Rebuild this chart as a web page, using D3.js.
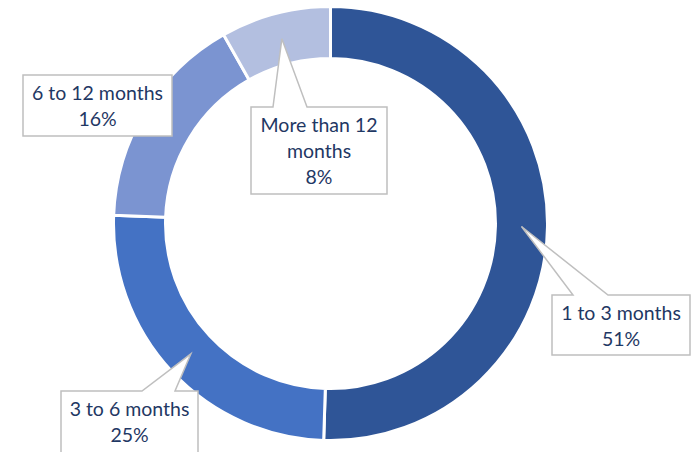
<!DOCTYPE html>
<html><head><meta charset="utf-8">
<script src="https://cdn.jsdelivr.net/npm/d3@7"></script>
<style>body{margin:0;background:#fff}svg{display:block}</style>
</head><body>
<svg id="chart" width="697" height="452"></svg>
<script>
const categories = ["1 to 3 months", "3 to 6 months", "6 to 12 months", "More than 12 months"];
const values = [50.5, 25.1, 16.2, 8.2];
const percentLabels = ["51%", "25%", "16%", "8%"];
const labelLines = [["1 to 3 months"], ["3 to 6 months"], ["6 to 12 months"], ["More than 12", "months"]];
const colors = ["#2F5597", "#4472C4", "#7B94D1", "#B3BFE0"];
// callout boxes: [left, top, width, height] and whether a pointer is drawn
const boxes = [[552, 295, 138, 60], [61, 391, 137, 66], [23, 75, 149, 61], [251, 107, 136, 87]];
const pointerGap = [[573, 608], [142, 175], null, [273, 307]];

const svg = d3.select("#chart");
const cx = 330.5, cy = 223.5, rOuter = 217, rInner = 165;
const g = svg.append("g").attr("transform", `translate(${cx},${cy})`);
const pie = d3.pie().sort(null).value(d => d)(values);
const arc = d3.arc().innerRadius(rInner).outerRadius(rOuter);
g.selectAll("path.slice").data(pie).join("path")
  .attr("class", "slice")
  .attr("d", arc)
  .attr("fill", (d, i) => colors[i])
  .attr("stroke", "#fff").attr("stroke-width", 3).attr("stroke-linejoin", "miter");

const lbl = svg.append("g");
pie.forEach((d, i) => {
  const [bx, by, bw, bh] = boxes[i];
  const c = arc.centroid(d);
  const tx = c[0] + cx, ty = c[1] + cy;
  const p = d3.path();
  p.moveTo(bx, by);
  if (pointerGap[i]) {
    p.lineTo(pointerGap[i][0], by);
    p.lineTo(tx, ty);
    p.lineTo(pointerGap[i][1], by);
  }
  p.lineTo(bx + bw, by);
  p.lineTo(bx + bw, by + bh);
  p.lineTo(bx, by + bh);
  p.closePath();
  lbl.append("path").attr("d", p.toString())
    .attr("fill", "#fff").attr("stroke", "#BFBFBF").attr("stroke-width", 1.5);
  const lines = labelLines[i].concat([percentLabels[i]]);
  const lh = 26;
  const firstBase = by + 25;
  const t = lbl.append("text")
    .attr("text-anchor", "middle")
    .attr("font-family", "Lato, 'Open Sans', sans-serif")
    .attr("font-size", 19.5)
    .attr("fill", "#1F3864");
  lines.forEach((s, k) => {
    t.append("tspan").attr("x", bx + bw / 2).attr("y", firstBase + k * lh).text(s);
  });
});
</script>
</body></html>
